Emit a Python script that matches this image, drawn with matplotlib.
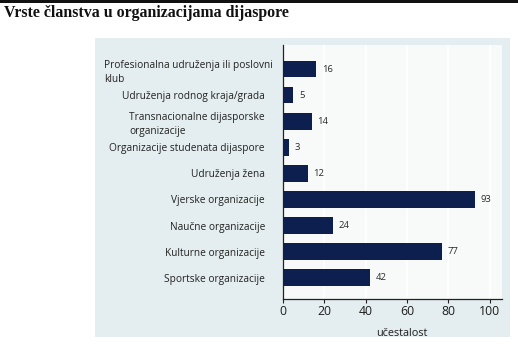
import matplotlib
matplotlib.use("Agg")
import matplotlib.pyplot as plt
import matplotlib.transforms as mtransforms
from matplotlib.patches import Rectangle

title = "Vrste članstva u organizacijama dijaspore"
categories = [
    "Profesionalna udruženja ili poslovni\nklub",
    "Udruženja rodnog kraja/grada",
    "Transnacionalne dijasporske\norganizacije",
    "Organizacije studenata dijaspore",
    "Udruženja žena",
    "Vjerske organizacije",
    "Naučne organizacije",
    "Kulturne organizacije",
    "Sportske organizacije",
]
counts = [16, 5, 14, 3, 12, 93, 24, 77, 42]
x_ticks = [0, 20, 40, 60, 80, 100]
x_label = "učestalost"

W, H = 518, 346
fig = plt.figure(figsize=(W / 100, H / 100), dpi=100)
fig.patch.set_facecolor("white")

# dark strip along the top edge
fig.add_artist(Rectangle((0, 1 - 3 / H), 1, 3 / H, transform=fig.transFigure,
                         facecolor="#111111", edgecolor="none", zorder=0))

# light panel behind the chart
fig.add_artist(Rectangle((95 / W, 1 - 337 / H), (510 - 95) / W, (337 - 38) / H,
                         transform=fig.transFigure, facecolor="#e4edef",
                         edgecolor="none", zorder=0))

fig.text(4 / W, 1 - 13 / H, title, fontfamily="Liberation Serif",
         fontweight="bold", fontsize=11.4, ha="left", va="center", color="#111111")

ax = fig.add_axes([283 / W, 1 - 298.5 / H, (502 - 283) / W, (298.5 - 45) / H])
ax.set_facecolor("#f8fafa")
ax.set_zorder(2)

pos = list(range(len(categories)))
bars = ax.barh(pos, counts, height=0.63, color="#0d1f4f", zorder=3)

ax.set_xlim(0, 106)
ax.set_ylim(8.8, -0.93)
ax.set_xticks(x_ticks)
ax.set_xticklabels([str(t) for t in x_ticks], fontfamily="Open Sans",
                   fontsize=8.8, color="#1e1e1e")
ax.tick_params(axis="x", length=3, width=0.8, color="#222222", pad=1.5)
ax.xaxis.grid(True, color="white", linewidth=1.2, zorder=1)
ax.set_axisbelow(True)

ax.set_yticks(pos)
ax.set_yticklabels(categories, fontfamily="Open Sans", fontsize=7.3,
                   color="#222222", multialignment="left", linespacing=1.35)
ax.tick_params(axis="y", length=0, pad=13)
first = ax.get_yticklabels()[0]
first.set_transform(first.get_transform() +
                    mtransforms.ScaledTranslation(8 / 100, 0, fig.dpi_scale_trans))

for b, v in zip(bars, counts):
    ax.annotate(str(v), xy=(b.get_width(), b.get_y() + b.get_height() / 2),
                xytext=(4, 0), textcoords="offset points", ha="left",
                va="center", fontfamily="Open Sans", fontsize=6.8,
                color="#2a2a2a")

ax.set_xlabel(x_label, fontfamily="Open Sans", fontsize=7.8, color="#1e1e1e")
ax.xaxis.set_label_coords(0.543, -0.115)

for s in ("top", "right"):
    ax.spines[s].set_visible(False)
for s in ("left", "bottom"):
    ax.spines[s].set_color("#222222")
    ax.spines[s].set_linewidth(0.9)

fig.savefig("out.png", dpi=100, facecolor="white")
